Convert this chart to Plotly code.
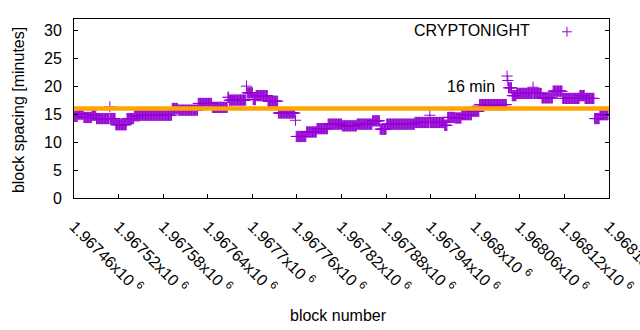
import numpy as np
import plotly.graph_objects as go

# ---- data ----
# step runs of the block-spacing series: first block of each run and its value [minutes]
run_start_block = [
    1967460, 1967465, 1967473, 1967484, 1967490, 1967508, 1967509, 1967516, 1967531, 1967541,
    1967549, 1967592, 1967600, 1967627, 1967646, 1967667, 1967669, 1967692, 1967693, 1967701,
    1967705, 1967721, 1967735, 1967758, 1967759, 1967773, 1967787, 1967802, 1967821, 1967841,
    1967862, 1967872, 1967881, 1967919, 1967939, 1967940, 1967959, 1967963, 1967973, 1967982,
    1967996, 1968006, 1968043, 1968044, 1968045, 1968050, 1968056, 1968078, 1968079, 1968090,
    1968105, 1968118, 1968141, 1968148, 1968161, 1968168,
]
run_value = [
    14.6, 15.0, 14.4, 14.8, 14.2, 16.3, 14.2, 13.1, 14.2, 14.7,
    14.8, 16.0, 15.7, 16.9, 16.2, 18.0, 17.5, 20.0, 18.8, 17.6,
    18.3, 17.3, 15.2, 13.9, 11.0, 11.8, 12.4, 13.2, 12.9, 13.2,
    13.8, 12.3, 13.2, 13.5, 14.8, 13.5, 13.0, 14.4, 14.3, 14.9,
    15.5, 16.7, 21.8, 21.0, 19.7, 18.3, 18.7, 19.8, 18.7, 17.9,
    19.1, 17.8, 18.3, 17.8, 14.2, 14.9,
]
last_block = 1968180
target_minutes = 16
series_name = "CRYPTONIGHT"

x_tick_vals = [1967460, 1967520, 1967580, 1967640, 1967700, 1967760, 1967820,
               1967880, 1967940, 1968000, 1968060, 1968120, 1968180]
x_tick_text = ["1.96746", "1.96752", "1.96758", "1.96764", "1.9677", "1.96776", "1.96782",
               "1.96788", "1.96794", "1.968", "1.96806", "1.96812", "1.96818"]
y_tick_vals = [0, 5, 10, 15, 20, 25, 30]

# expand runs into one point per block
ends = run_start_block[1:] + [last_block]
blocks, spacing = [], []
for s, e, v in zip(run_start_block, ends, run_value):
    for b in range(s, e):
        blocks.append(b)
        spacing.append(v)

PURPLE = "#9400D3"
ORANGE = "#FFA500"
FONT = "Liberation Sans, Arial, sans-serif"

fig = go.Figure()
fig.add_trace(go.Scatter(
    x=blocks, y=spacing, mode="markers", name=series_name,
    marker=dict(symbol="cross-thin", size=8, line=dict(color=PURPLE, width=1), color=PURPLE),
    showlegend=False,
))
# legend key (gnuplot puts the sample to the right of the title)
fig.add_trace(go.Scatter(
    x=[None], y=[None], mode="markers", name="",
    marker=dict(symbol="cross-thin", size=7, line=dict(color=PURPLE, width=1), color=PURPLE),
    showlegend=True,
))

fig.add_shape(type="line", xref="paper", x0=0, x1=1, yref="y", y0=target_minutes, y1=target_minutes,
              line=dict(color=ORANGE, width=4.5), layer="above")

fig.add_annotation(text="16 min", xref="x", yref="y", x=1968029, y=20,
                   xanchor="right", yanchor="middle", showarrow=False,
                   font=dict(family=FONT, size=16, color="black"))
fig.add_annotation(text=series_name, xref="paper", yref="paper", x=0.856, y=0.933,
                   xanchor="right", yanchor="middle", showarrow=False,
                   font=dict(family=FONT, size=16, color="black"))
fig.add_annotation(text="block spacing [minutes]", xref="paper", yref="paper", x=-0.105, y=0.49,
                   xanchor="center", yanchor="middle", textangle=-90, showarrow=False,
                   font=dict(family=FONT, size=16, color="black"))
fig.add_annotation(text="block number", xref="paper", yref="paper", x=0.495, y=-0.654,
                   xanchor="center", yanchor="middle", showarrow=False,
                   font=dict(family=FONT, size=16, color="black"))

fig.update_layout(
    width=640, height=330,
    margin=dict(l=74, r=31, t=19, b=132, autoexpand=False),
    paper_bgcolor="white", plot_bgcolor="white",
    font=dict(family=FONT, size=16, color="black"),
    legend=dict(x=0.884, y=0.928, xanchor="left", yanchor="middle",
                bgcolor="rgba(0,0,0,0)", borderwidth=0, itemwidth=30,
                font=dict(size=16)),
)
fig.update_xaxes(
    range=[x_tick_vals[0] - 0.3, last_block + 0.3], tickmode="array", tickvals=x_tick_vals,
    ticktext=[t + "x10 <sup>6</sup>" for t in x_tick_text], tickangle=45,
    ticks="inside", ticklen=4, tickwidth=1, tickcolor="black",
    showline=True, linecolor="black", linewidth=1, mirror=True,
    showgrid=False, zeroline=False, ticklabelstandoff=12, automargin=False,
    ticklabeloverflow="allow",
)
fig.update_yaxes(
    range=[0, 32], tickmode="array", tickvals=y_tick_vals,
    ticks="inside", ticklen=4, tickwidth=1, tickcolor="black",
    showline=True, linecolor="black", linewidth=1, mirror="ticks",
    showgrid=False, zeroline=False, ticklabelstandoff=8, automargin=False,
)

fig.write_html("out.html")
